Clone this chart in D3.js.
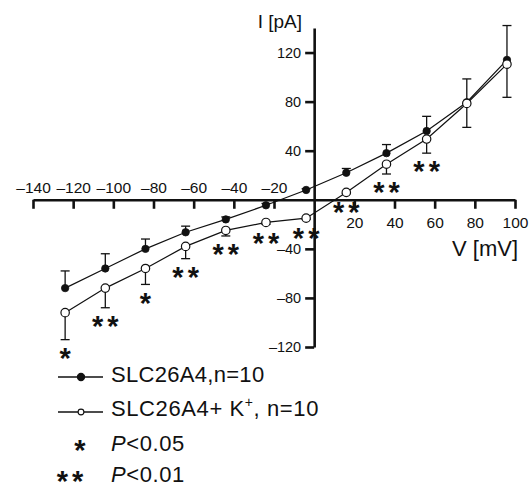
<!DOCTYPE html>
<html>
<head>
<meta charset="utf-8">
<script src="https://cdn.jsdelivr.net/npm/d3@7"></script>
<style>
body { margin: 0; background: #fff; }
text { font-family: "Liberation Sans", Arial, sans-serif; fill: #111; }
</style>
</head>
<body>
<svg class="iv" width="530" height="489"></svg>
<script>
// membrane potential (mV) and mean current (pA) +/- error
var volts = [-124, -104, -84, -64, -44, -24, -4, 16, 36, 56, 76, 96];
var ctrl = [-72, -56, -40, -26.5, -16, -4.5, 8, 22, 38, 56, 79.5, 114];
var ctrlErr = [14, 12, 8, 5, 2, 1.5, 1, 3.5, 7, 12, 19, 28];
var kplus = [-92, -72, -56, -38, -25, -18.5, -15, 6, 29, 49.5, 78.5, 110.5];
var kplusErr = [22, 16, 13, 10, 4.5, 1.5, 1, 1, 8, 11.5, 19.5, 27];
var stars = ["*", "**", "*", "**", "**", "**", "**", "**", "**", "**", "", ""];
var xTicks = [-140, -120, -100, -80, -60, -40, -20, 20, 40, 60, 80, 100];
var yTicks = [-120, -80, -40, 40, 80, 120];

var svg = d3.select('.iv');

var x = d3.scaleLinear().domain([-140, 100]).range([33, 515]);
var y = d3.scaleLinear().domain([-120, 140]).range([347, 28]);

var fmt = function(d) { return d < 0 ? "\u2013" + Math.abs(d) : d; };

// x axis, through I = 0
var xg = svg.append('g').attr('class', 'xaxis')
  .attr('transform', 'translate(0,' + y(0) + ')')
  .call(d3.axisBottom(x).tickValues(xTicks).tickSize(9).tickSizeOuter(0).tickFormat(fmt));
xg.selectAll('text')
  .style('font-size', '15.5px')
  .attr('y', function(d) { return d < 0 ? -7 : 17.5; })
  .attr('dy', function(d) { return d < 0 ? 0 : '0.71em'; });

// y axis, through V = 0
var yg = svg.append('g').attr('class', 'yaxis')
  .attr('transform', 'translate(' + x(0) + ',0)')
  .call(d3.axisLeft(y).tickValues(yTicks).tickSize(9).tickSizeOuter(0).tickFormat(fmt));
yg.selectAll('text').style('font-size', '14.5px').attr('x', -13);

svg.selectAll('.xaxis path, .xaxis line, .yaxis path, .yaxis line')
  .attr('stroke', '#111').attr('stroke-width', 2.6);
svg.selectAll('.xaxis text, .yaxis text').attr('fill', '#111');

svg.append('text').attr('x', 302).attr('y', 28).attr('text-anchor', 'end')
  .style('font-size', '19px').text('I [pA]');
svg.append('text').attr('x', 518).attr('y', 256).attr('text-anchor', 'end')
  .style('font-size', '22px').text('V [mV]');

var line = d3.line()
  .x(function(d, i) { return x(volts[i]); })
  .y(function(d) { return y(d); });

function series(vals, errs, dir, open) {
  var g = svg.append('g');
  g.append('path').attr('d', line(vals))
    .attr('fill', 'none').attr('stroke', '#111').attr('stroke-width', 1.2);
  // one-sided error bars
  var eb = g.selectAll('g.eb').data(vals).enter().append('g').attr('class', 'eb');
  eb.append('line')
    .attr('x1', function(d, i) { return x(volts[i]); })
    .attr('x2', function(d, i) { return x(volts[i]); })
    .attr('y1', function(d) { return y(d); })
    .attr('y2', function(d, i) { return y(d + dir * errs[i]); });
  eb.append('line')
    .attr('x1', function(d, i) { return x(volts[i]) - 4.5; })
    .attr('x2', function(d, i) { return x(volts[i]) + 4.5; })
    .attr('y1', function(d, i) { return y(d + dir * errs[i]); })
    .attr('y2', function(d, i) { return y(d + dir * errs[i]); });
  eb.selectAll('line').attr('stroke', '#111').attr('stroke-width', 1.3);
  g.selectAll('circle').data(vals).enter().append('circle')
    .attr('cx', function(d, i) { return x(volts[i]); })
    .attr('cy', function(d) { return y(d); })
    .attr('r', open ? 4.2 : 3.7)
    .attr('fill', open ? '#fff' : '#111')
    .attr('stroke', '#111').attr('stroke-width', open ? 1.2 : 0.8);
}

series(ctrl, ctrlErr, 1, false);
series(kplus, kplusErr, -1, true);

// significance marks under the K+ curve
function starText(sel, size) {
  return sel.attr('dy', '0.56em').attr('text-anchor', 'middle')
    .style('font-size', size + 'px').style('font-weight', 'bold').style('letter-spacing', '4px');
}
starText(svg.selectAll('text.sig').data(stars).enter().append('text')
  .attr('class', 'sig')
  .attr('x', function(d, i) { return x(volts[i]) + 2; })
  .attr('y', function(d, i) { return y(kplus[i] - kplusErr[i]) + 12; }), 29)
  .text(function(d) { return d; });

// legend
var leg = svg.append('g').attr('class', 'legend');
var marks = [377, 412];
[0, 1].forEach(function(k) {
  leg.append('line').attr('x1', 58).attr('x2', 103).attr('y1', marks[k]).attr('y2', marks[k])
    .attr('stroke', '#111').attr('stroke-width', 1.3);
  leg.append('circle').attr('cx', 81).attr('cy', marks[k]).attr('r', k ? 2.9 : 3.6)
    .attr('fill', k ? '#fff' : '#111').attr('stroke', '#111').attr('stroke-width', 1.1);
});
var base = [382, 416, 451, 482];
leg.append('text').attr('x', 111).attr('y', base[0]).style('font-size', '22px')
  .style('letter-spacing', '0.3px').text('SLC26A4,n=10');
var t2 = leg.append('text').attr('x', 111).attr('y', base[1]).style('font-size', '22px')
  .style('letter-spacing', '0.6px');
t2.append('tspan').text('SLC26A4+ K');
t2.append('tspan').attr('dy', -9).style('font-size', '14px').text('+');
t2.append('tspan').attr('dy', 9).text(', n=10');

starText(leg.append('text').attr('x', 82).attr('y', 444), 29).text('*');
starText(leg.append('text').attr('x', 72).attr('y', 475), 29).text('**');
[2, 3].forEach(function(k) {
  var t = leg.append('text').attr('x', 111).attr('y', base[k]).style('font-size', '22px')
    .style('letter-spacing', '0.6px');
  t.append('tspan').style('font-style', 'italic').text('P');
  t.append('tspan').text(k == 2 ? '<0.05' : '<0.01');
});
</script>
</body>
</html>
